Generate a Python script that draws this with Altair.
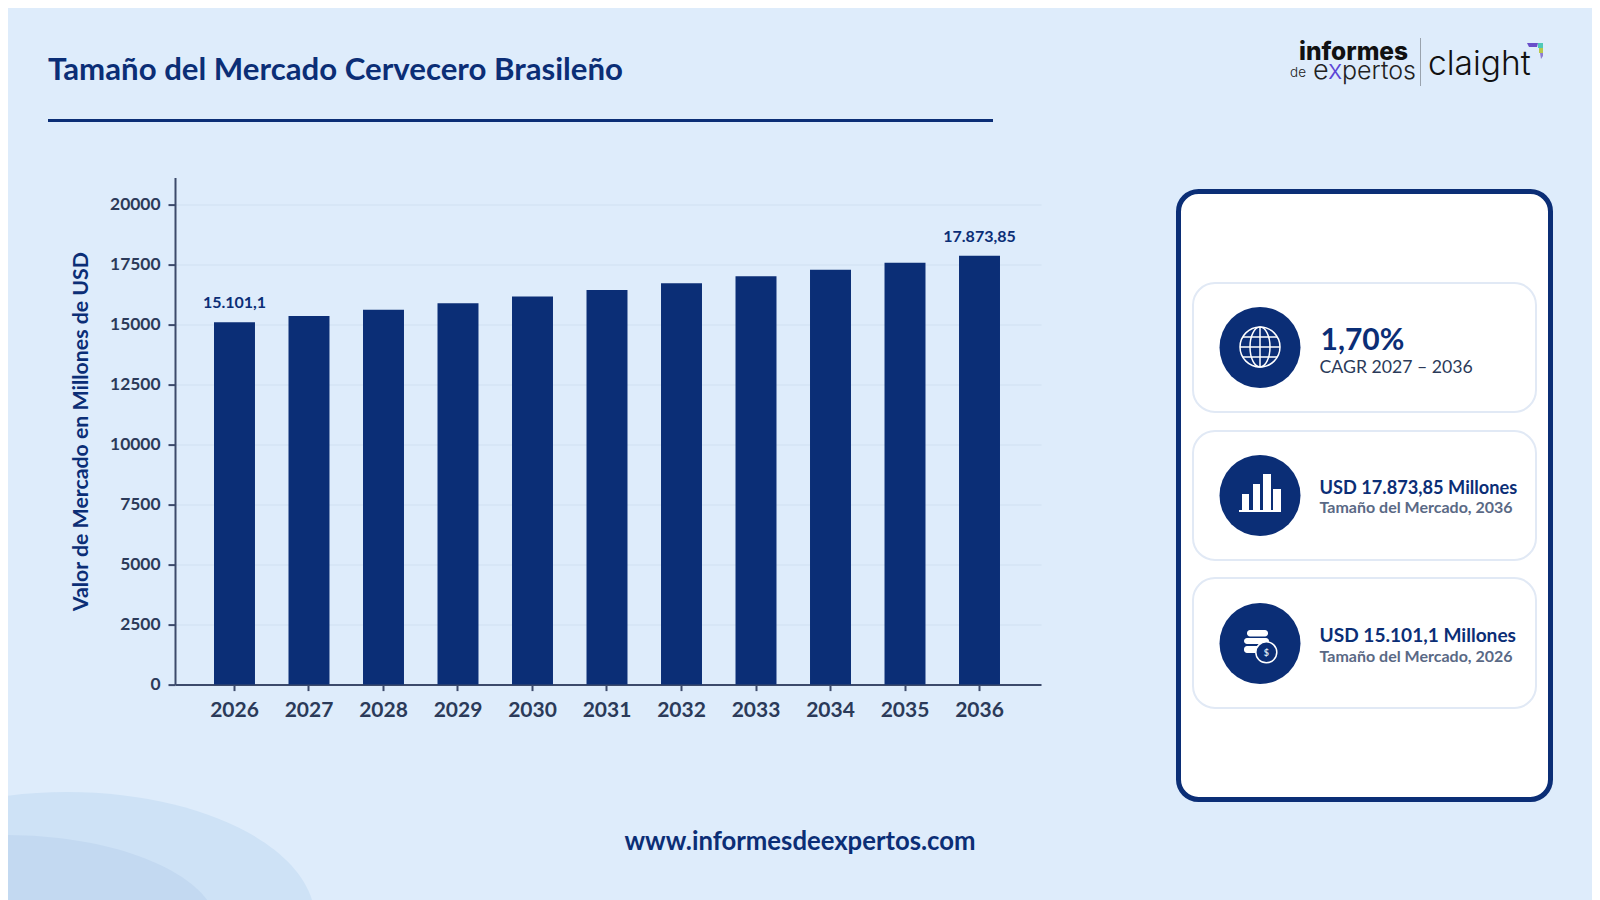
import pandas as pd
import altair as alt

# Data
years = ["2026", "2027", "2028", "2029", "2030", "2031", "2032", "2033", "2034", "2035", "2036"]
values = [15101.1, 15360, 15620, 15890, 16170, 16440, 16720, 17010, 17290, 17580, 17873.85]
labels = ["15.101,1", "", "", "", "", "", "", "", "", "", "17.873,85"]
y_ticks = [0, 2500, 5000, 7500, 10000, 12500, 15000, 17500, 20000]

NAVY = "#0B2E76"
DARK = "#2B3A59"
AXIS = "#3C4A6B"
BG = "#DEECFB"
FONT = "Lato"

# Plot area place in window pixels, the page margin takes 8px off the canvas
LEFT, TOP, W, H = 175, 177.6, 866, 507
MARGIN = 8
CANVAS_W, CANVAS_H = 1584, 892

one = pd.DataFrame({"a": [0]})


def text(s, x, y, size, color=DARK, weight="normal", align="left", font=FONT):
    return alt.Chart(one).mark_text(
        text=s, fontSize=size, color=color, fontWeight=weight, align=align,
        baseline="alphabetic", font=font
    ).encode(x=alt.value(x - LEFT), y=alt.value(y - TOP))


def box(x1, y1, x2, y2, fill, stroke=None, sw=0, r=0):
    kw = {"stroke": stroke, "strokeWidth": sw} if stroke else {}
    return alt.Chart(one).mark_rect(fill=fill, cornerRadius=r, **kw).encode(
        x=alt.value(x1 - LEFT), x2=alt.value(x2 - LEFT),
        y=alt.value(y1 - TOP), y2=alt.value(y2 - TOP)
    )


def dot(x, y, r, fill, stroke=None, sw=0):
    kw = {"stroke": stroke, "strokeWidth": sw} if stroke else {"strokeWidth": 0}
    return alt.Chart(one).mark_point(
        shape="circle", size=(2 * r) ** 2, filled=True, fill=fill, opacity=1, **kw
    ).encode(x=alt.value(x - LEFT), y=alt.value(y - TOP))


# size=4 makes a path symbol draw 1:1 in pixels
def path(d, fill=None, stroke=None, sw=0):
    if fill:
        m = alt.Chart(one).mark_point(shape=d, size=4, filled=True, fill=fill, opacity=1, strokeWidth=0)
    else:
        m = alt.Chart(one).mark_point(shape=d, size=4, filled=False, stroke=stroke, strokeWidth=sw, opacity=1)
    return m.encode(x=alt.value(-LEFT), y=alt.value(-TOP))


def ellipse(cx, cy, a, b):
    return f"M{cx - a} {cy} A{a} {b} 0 1 1 {cx + a} {cy} A{a} {b} 0 1 1 {cx - a} {cy} Z"


# Background shapes bottom left
decor_back = [
    path(ellipse(67, 920, 248, 128), fill="#CEE2F6"),
    path(ellipse(5, 930, 213, 95), fill="#C3D9F1"),
]

# Bars and axes
df = pd.DataFrame({"year": years, "value": values, "label": labels})

x_enc = alt.X("year:N", title=None, sort=years,
              scale=alt.Scale(paddingInner=0.45, paddingOuter=0.537, align=0.4875),
              axis=alt.Axis(labelAngle=0, labelFont=FONT, labelFontSize=21, labelFontWeight="bold",
                            labelColor=DARK, labelPadding=9, tickColor=AXIS, tickWidth=2, tickSize=6,
                            domainColor=AXIS, domainWidth=2, grid=False))
y_enc = alt.Y("value:Q", title="Valor de Mercado en Millones de USD",
              scale=alt.Scale(domain=[0, 21125], nice=False),
              axis=alt.Axis(values=y_ticks, format="d", labelFont=FONT, labelFontSize=17.4,
                            labelFontWeight="bold", labelColor=DARK, labelPadding=8, tickColor=AXIS,
                            tickWidth=2, tickSize=7, domainColor=AXIS, domainWidth=2,
                            gridColor="#D5E4F5", gridWidth=1.5,
                            titleFont=FONT, titleFontSize=21.3, titleFontWeight="bold",
                            titleColor=NAVY, titlePadding=18))

bars = alt.Chart(df).mark_bar(color=NAVY).encode(x=x_enc, y=y_enc)
bar_labels = alt.Chart(df).mark_text(
    font=FONT, fontSize=16, fontWeight="bold", color=NAVY, baseline="bottom", dy=-11
).encode(x=alt.X("year:N", sort=years), y="value:Q", text="label:N")

# Header and footer
header = [
    text("Tamaño del Mercado Cervecero Brasileño", 48, 80, 31.2, color=NAVY, weight="bold"),
    box(48, 119, 993, 122, NAVY),
    text("www.informesdeexpertos.com", 800, 850, 25.7, color=NAVY, weight="bold", align="center"),
]

# Logo
logo = [
    text("informes", 1299, 60, 24.5, color="#111111", weight=800, font="Inter"),
    text("de", 1290, 77, 13.5, color="#222222", weight=300, font="Inter"),
    text("e", 1313, 79, 27, color="#222222", weight=300, font="Inter"),
    text("x", 1328, 79, 27, color="#5B45D6", weight=300, font="Inter"),
    text("pertos", 1342, 79, 25, color="#222222", weight=300, font="Inter"),
    box(1420, 38, 1421, 86, "#9AA3AD"),
    text("claight", 1428, 75, 33.5, color="#111111", weight=300, font="Inter"),
    path("M1527 43 H1538 L1537 47 H1529 Z", fill="#6A4FC9"),
    path("M1538 43 H1543 V48 H1538 Z", fill="#4FC9B8"),
    path("M1539 48 H1543 V53 H1539 Z", fill="#B9C94A"),
    path("M1540 53 H1543 V56 L1541 59 Z", fill="#8E7BD1"),
]

# Right panel
card_tops = [(283, 412), (431, 560), (578, 708)]
circle_y = [347.5, 495.5, 643.5]
panel = [box(1178.5, 191.5, 1550.5, 799.5, "#FFFFFF", stroke=NAVY, sw=5, r=20)]
for (t, b), cy in zip(card_tops, circle_y):
    panel.append(box(1193, t, 1536, b, "#FFFFFF", stroke="#E1E9F5", sw=2, r=22))
    panel.append(dot(1260, cy, 40.5, NAVY))

# Globe
panel += [
    dot(1260, 347, 20, NAVY, stroke="#FFFFFF", sw=1.5),
    path("M1260 327 V367 M1240 347 H1280 M1243 337 H1277 M1243 357 H1277 "
         "M1260 327 A10 20 0 0 0 1260 367 M1260 327 A10 20 0 0 1 1260 367",
         stroke="#FFFFFF", sw=1.5),
]
# Small bar icon
panel += [
    box(1242, 494, 1249, 512, "#FFFFFF"),
    box(1253, 484, 1260, 512, "#FFFFFF"),
    box(1263, 474, 1271, 512, "#FFFFFF"),
    box(1273, 489, 1281, 512, "#FFFFFF"),
    box(1239, 510, 1281, 512, "#FFFFFF"),
]
# Coin icon
panel += [
    box(1247, 630, 1268, 636.5, "#FFFFFF", r=3),
    box(1244, 638, 1269, 644, "#FFFFFF", r=3),
    box(1244, 646, 1260, 653, "#FFFFFF", r=3),
    dot(1266.3, 652.3, 10.5, NAVY, stroke="#FFFFFF", sw=1.5),
    text("$", 1266.3, 655.5, 9, color="#DCE6F5", weight="bold", align="center"),
]
# Card texts
panel += [
    text("1,70%", 1320.5, 350, 30, color=NAVY, weight="bold"),
    text("CAGR 2027 – 2036", 1319.5, 373, 17.7),
    text("USD 17.873,85 Millones", 1319.5, 494, 18.2, color=NAVY, weight="bold"),
    text("Tamaño del Mercado, 2036", 1319.5, 513, 16, color="#5A6985", weight="bold"),
    text("USD 15.101,1 Millones", 1319.5, 642, 19.1, color=NAVY, weight="bold"),
    text("Tamaño del Mercado, 2026", 1319.5, 662, 16, color="#5A6985", weight="bold"),
]

chart = alt.layer(*decor_back, bars, bar_labels, *header, *logo, *panel).properties(
    width=W, height=H,
    padding={"left": LEFT - MARGIN, "top": TOP - MARGIN,
             "right": CANVAS_W - (LEFT - MARGIN) - W, "bottom": CANVAS_H - (TOP - MARGIN) - H},
    autosize=alt.AutoSizeParams(type="none"),
    background=BG,
).configure_view(stroke=None)

chart.save("out.html", embed_options={"renderer": "svg", "actions": False})
